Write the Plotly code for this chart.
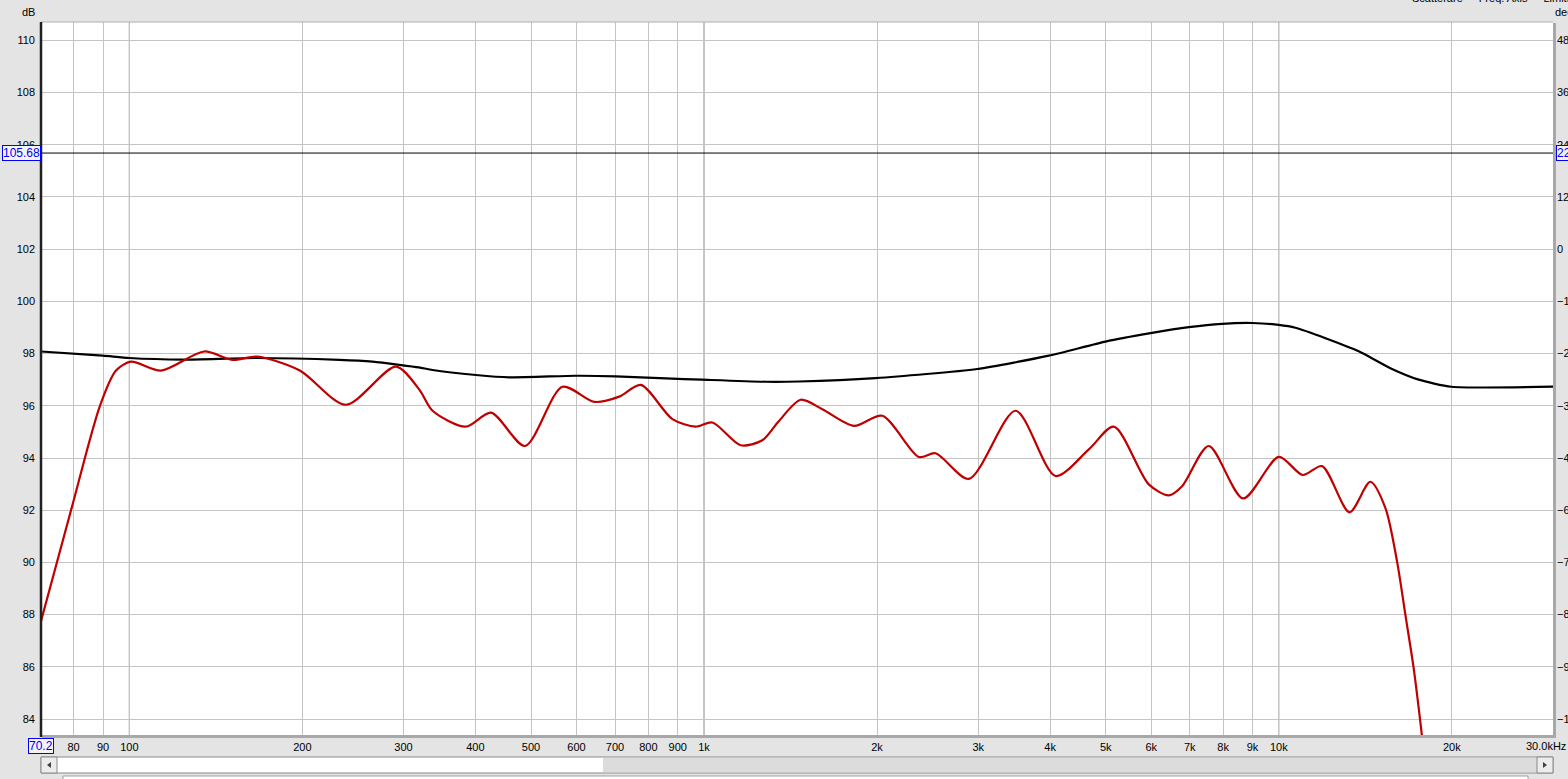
import plotly.graph_objects as go
import math

# ---------------- data ----------------
red_freq = [70.2, 79.4, 88.9, 94.8, 100.7, 113.5, 135, 151, 167, 198, 238, 291, 320, 337,
            385, 426, 488, 567, 644, 712, 776, 881, 967, 1034, 1158, 1263, 1350, 1473, 1606,
            1824, 2042, 2365, 2528, 2890, 3484, 4089, 4672, 5164, 5940, 6436, 6789, 7554,
            8670, 10000, 11010, 11895, 13274, 14432, 15326, 16060, 16607, 17170, 17760]
red_db = [87.75, 92.1, 96.0, 97.35, 97.69, 97.35, 98.08, 97.76, 97.88, 97.35, 96.04, 97.5, 96.6, 95.81,
          95.2, 95.74, 94.46, 96.73, 96.15, 96.35, 96.8, 95.49, 95.2, 95.36, 94.49, 94.68, 95.42, 96.23, 95.87,
          95.23, 95.62, 94.04, 94.18, 93.2, 95.81, 93.31, 94.33, 95.2, 92.99, 92.57, 92.92, 94.46,
          92.45, 94.04, 93.35, 93.69, 91.92, 93.09, 92.09, 90.04, 87.99, 85.94, 83.3]

black_freq = [70.2, 89.9, 100, 124, 166, 232, 265, 295, 319, 337, 401, 458, 598, 702, 858, 991,
              1280, 1463, 1988, 2988, 3981, 4995, 5981, 6975, 7969, 8988, 10000, 10690, 12058,
              13774, 15740, 17516, 19967, 30000]
black_db = [98.08, 97.92, 97.83, 97.77, 97.83, 97.76, 97.69, 97.57, 97.47, 97.37, 97.18, 97.09, 97.15, 97.13, 97.05, 97.0,
            96.92, 96.93, 97.06, 97.41, 97.92, 98.46, 98.78, 99.01, 99.14, 99.17, 99.1, 98.99, 98.59,
            98.09, 97.41, 97.0, 96.73, 96.73]

x_tick_vals = [80, 90, 100, 200, 300, 400, 500, 600, 700, 800, 900, 1000, 2000, 3000, 4000,
               5000, 6000, 7000, 8000, 9000, 10000, 20000]
x_tick_text = ["80", "90", "100", "200", "300", "400", "500", "600", "700", "800", "900", "1k", "2k", "3k",
               "4k", "5k", "6k", "7k", "8k", "9k", "10k", "20k"]
x_major = [100, 1000, 10000]
y_ticks = [84, 86, 88, 90, 92, 94, 96, 98, 100, 102, 104, 106, 108, 110]
deg_ticks = [48, 36, 24, 12, 0, -12, -24, -36, -48, -60, -72, -84, -96, -108]

x_min, x_max = 70.2, 30000
y_min, y_max = 83.39, 110.70
cursor_db = 105.68
cursor_deg = 22
cursor_freq = "70.2"

# ---------------- geometry helpers (pixels -> paper) ----------------
W, H = 1568, 779
L, R, T, B = 41, 15, 22, 44
PW, PH = W - L - R, H - T - B


def px(x):
    return (x - L) / PW


def py(y):
    return (H - B - y) / PH


FONT = "Liberation Sans, Arial, sans-serif"

fig = go.Figure()

fig.add_trace(go.Scatter(x=black_freq, y=black_db, mode="lines",
                         line=dict(color="#000000", width=2.2, shape="spline", smoothing=0.6),
                         hoverinfo="skip", showlegend=False))
fig.add_trace(go.Scatter(x=red_freq, y=red_db, mode="lines",
                         line=dict(color="#c00000", width=2.2, shape="spline", smoothing=0.8),
                         hoverinfo="skip", showlegend=False))
# invisible trace for secondary (deg) axis
fig.add_trace(go.Scatter(x=[x_min], y=[0], yaxis="y2", mode="markers",
                         marker=dict(opacity=0), hoverinfo="skip", showlegend=False))

shapes = []
# major vertical grid lines
for f in x_major:
    shapes.append(dict(type="line", xref="x", yref="paper", x0=f, x1=f, y0=0, y1=1,
                       line=dict(color="#808080", width=1), layer="below"))
# cursor horizontal line
shapes.append(dict(type="line", xref="paper", yref="y", x0=0, x1=1, y0=cursor_db, y1=cursor_db,
                   line=dict(color="#000000", width=1)))
# plot frame
shapes.append(dict(type="line", xref="paper", yref="paper", x0=0, x1=1, y0=1, y1=1,
                   line=dict(color="#b0b0b0", width=1)))
shapes.append(dict(type="line", xref="paper", yref="paper", x0=px(1554.5), x1=px(1554.5), y0=py(23), y1=py(737),
                   line=dict(color="#a8a8a8", width=3)))
shapes.append(dict(type="line", xref="paper", yref="paper", x0=px(42), x1=px(1556), y0=py(736.5), y1=py(736.5),
                   line=dict(color="#a8a8a8", width=3)))
shapes.append(dict(type="line", xref="paper", yref="paper", x0=px(41), x1=px(41), y0=py(22), y1=py(737),
                   line=dict(color="#202020", width=2.5)))

# scrollbar
shapes.append(dict(type="rect", xref="paper", yref="paper", x0=px(41), x1=px(1553), y0=py(773), y1=py(757),
                   line=dict(color="#8a8a8a", width=1), fillcolor="#ffffff"))
shapes.append(dict(type="rect", xref="paper", yref="paper", x0=px(603), x1=px(1537), y0=py(772), y1=py(758),
                   line=dict(width=0), fillcolor="#dcdcdc"))
shapes.append(dict(type="rect", xref="paper", yref="paper", x0=px(41), x1=px(57), y0=py(773), y1=py(757),
                   line=dict(color="#8a8a8a", width=1), fillcolor="#ececec"))
shapes.append(dict(type="rect", xref="paper", yref="paper", x0=px(1537), x1=px(1553), y0=py(773), y1=py(757),
                   line=dict(color="#8a8a8a", width=1), fillcolor="#ececec"))
shapes.append(dict(type="path", xref="paper", yref="paper",
                   path=f"M {px(47)},{py(765)} L {px(51)},{py(762)} L {px(51)},{py(768)} Z",
                   fillcolor="#404040", line=dict(width=0)))
shapes.append(dict(type="path", xref="paper", yref="paper",
                   path=f"M {px(1547)},{py(765)} L {px(1543)},{py(762)} L {px(1543)},{py(768)} Z",
                   fillcolor="#404040", line=dict(width=0)))
# lower panel edge
shapes.append(dict(type="rect", xref="paper", yref="paper", x0=px(63), x1=px(1528), y0=py(782), y1=py(776),
                   line=dict(color="#a0a0a0", width=1), fillcolor="#ffffff"))

annotations = []
annotations.append(dict(text="dB", xref="paper", yref="paper", x=px(28), y=py(12), showarrow=False,
                        font=dict(family=FONT, size=11, color="#000"), xanchor="center", yanchor="middle"))
annotations.append(dict(text="deg", xref="paper", yref="paper", x=px(1553), y=py(12), showarrow=False,
                        font=dict(family=FONT, size=11, color="#000"), xanchor="left", yanchor="middle"))
annotations.append(dict(text="Scatterare  ·  Freq. Axis  ·  Limits", xref="paper", yref="paper", x=px(1410), y=py(-2),
                        showarrow=False, font=dict(family=FONT, size=11, color="#000"),
                        xanchor="left", yanchor="middle"))
annotations.append(dict(text="30.0kHz", xref="paper", yref="paper", x=px(1568), y=py(746), showarrow=False,
                        font=dict(family=FONT, size=11, color="#000"), xanchor="right", yanchor="middle"))
annotations.append(dict(text=f"{cursor_db:.2f}", xref="paper", yref="y", x=px(21), y=cursor_db, showarrow=False,
                        font=dict(family=FONT, size=12, color="#0000ff"), xanchor="center", yanchor="middle",
                        bordercolor="#0000ff", borderwidth=1, borderpad=0, bgcolor="#f4f4f4"))
annotations.append(dict(text=str(cursor_deg), xref="paper", yref="y", x=px(1556), y=cursor_db, showarrow=False,
                        font=dict(family=FONT, size=12, color="#0000ff"), xanchor="left", yanchor="middle",
                        bordercolor="#0000ff", borderwidth=1, borderpad=0, bgcolor="#f4f4f4"))
annotations.append(dict(text=cursor_freq, xref="paper", yref="paper", x=px(41), y=py(746), showarrow=False,
                        font=dict(family=FONT, size=12, color="#0000ff"), xanchor="center", yanchor="middle",
                        bordercolor="#0000ff", borderwidth=1, borderpad=0, bgcolor="#f4f4f4"))

fig.update_layout(
    width=W, height=H, autosize=False,
    margin=dict(l=L, r=R, t=T, b=B, pad=0, autoexpand=False),
    paper_bgcolor="#e4e4e4",
    plot_bgcolor="#ffffff",
    showlegend=False,
    font=dict(family=FONT, size=11, color="#000000"),
    xaxis=dict(type="log", range=[math.log10(x_min), math.log10(x_max)], automargin=False,
               tickmode="array", tickvals=x_tick_vals, ticktext=x_tick_text,
               showgrid=True, gridcolor="#c4c4c4", gridwidth=1, zeroline=False,
               showline=False, ticks="", ticklabelstandoff=4,
               tickfont=dict(family=FONT, size=11, color="#000")),
    yaxis=dict(range=[y_min, y_max], tickmode="array", tickvals=y_ticks, automargin=False,
               showgrid=True, gridcolor="#c4c4c4", gridwidth=1, zeroline=False,
               showline=False, ticks="", ticklabelstandoff=5,
               tickfont=dict(family=FONT, size=11, color="#000")),
    yaxis2=dict(overlaying="y", side="right", automargin=False,
                range=[(y_min - 102) * 6, (y_max - 102) * 6], tickmode="array", tickvals=deg_ticks,
                showgrid=False, zeroline=False, showline=False, ticks="", ticklabelstandoff=3,
                tickfont=dict(family=FONT, size=11, color="#000")),
    shapes=shapes,
    annotations=annotations,
)

post = ("document.body.style.margin='0px';"
        "document.body.style.padding='0px';"
        "document.body.style.overflow='hidden';"
        "document.documentElement.style.overflow='hidden';")

fig.write_html("out.html", config={"responsive": False, "displayModeBar": False}, post_script=post)
